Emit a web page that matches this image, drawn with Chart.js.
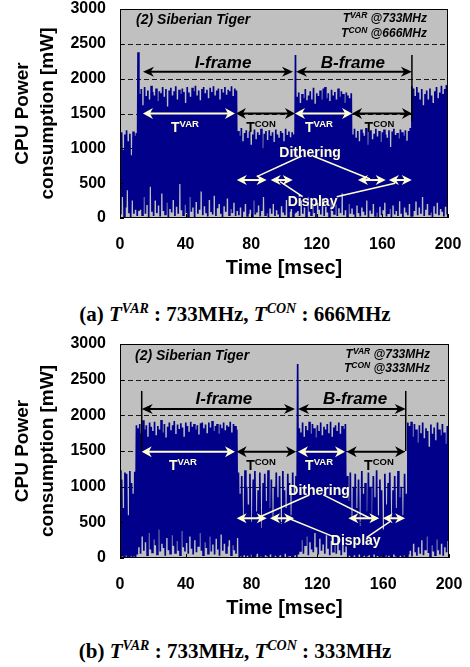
<!DOCTYPE html>
<html><head><meta charset="utf-8">
<script src="https://cdn.jsdelivr.net/npm/chart.js@4.4.0/dist/chart.umd.min.js"></script>
<style>
html,body{margin:0;padding:0;background:#fff;width:470px;height:667px;overflow:hidden;}
.wrap{position:absolute;left:0;width:470px;height:300px;}
.cap{position:absolute;left:0;width:470px;text-align:center;font:bold 21px "Liberation Serif",serif;color:#000;white-space:nowrap;line-height:24px;}
.cap i{font-style:italic}
.cap sup{font-size:14px;font-style:italic;vertical-align:0;position:relative;top:-8px}
</style></head>
<body>
<div class="wrap" style="top:0"><canvas id="c1" width="470" height="300"></canvas></div>
<div class="cap" style="top:302px">(a) <i>T</i><sup>VAR</sup> : 733MHz, <i>T</i><sup>CON</sup> : 666MHz</div>
<div class="wrap" style="top:330px"><canvas id="c2" width="470" height="300"></canvas></div>
<div class="cap" style="top:639px">(b) <i>T</i><sup>VAR</sup> : 733MHz, <i>T</i><sup>CON</sup> : 333MHz</div>
<script>
// ---- DATA (one sample per msec: local peak and following trough, mW) ----
const xTickValues = [0, 40, 80, 120, 160, 200];
const yTickValues = [0, 500, 1000, 1500, 2000, 2500, 3000];

const peaksA = [
1150,1230,980,1200,1260,1100,1210,900,1240,1180,1220,
2380,
1780,1850,1620,1880,1750,1830,1700,1900,1810,1760,
1860,1680,1820,1790,1880,1740,1850,1600,1830,1870,
1760,1820,1890,1700,1840,1780,1860,1810,1650,1880,
1800,1740,1870,1820,1900,1760,1830,1690,1850,1880,
1790,1840,1720,1870,1810,1890,1760,1830,1860,1700,
1850,1800,1880,1770,1840,1820,1890,1750,1860,1830,
1250,1180,1290,1100,1220,1260,1150,1240,1050,1200,
1270,1130,1230,1190,1280,1000,1210,1250,1120,1260,
1180,1230,1090,1270,1200,1150,1250,1220,1100,1280,
1190,1240,1160,1230,1200,
2340,
1740,1800,1650,1780,1720,1850,1690,1760,1820,1700,
1870,1640,1790,1750,1830,1700,1860,1880,1720,1790,
1680,1840,1760,1810,1700,1860,1740,1820,1780,1650,
1800,1760,1720,1790,
1200,1280,1150,1250,1100,1270,1220,1180,1290,1050,
1240,1260,1130,1210,1280,1170,1250,1090,1230,1270,
1200,1150,1260,1020,1240,1280,1190,1220,1140,1270,
1230,1180,1260,1110,1250,1290,
1890,1860,1750,1880,1800,1700,1850,1620,1780,1830,
1700,1860,1760,1650,1820,1880,1720,1800,1900,1780,
1850,1910,1870
];
const troughsA = [
50,300,20,150,400,80,10,250,60,120,30,
100,
120,40,300,60,200,10,450,90,30,250,
70,180,20,350,100,50,220,0,140,80,
260,30,160,60,500,110,40,190,70,20,
300,90,150,10,230,60,120,380,40,170,
80,20,260,100,50,320,30,140,200,60,
10,180,90,280,40,130,70,220,30,100,
40,150,0,90,200,30,60,120,10,250,
50,80,180,20,100,300,40,70,0,150,
60,200,30,110,50,0,170,80,40,260,
20,90,130,10,60,
80,
100,30,250,60,150,20,300,90,40,180,
70,10,220,120,50,280,30,160,80,20,
240,100,60,190,30,140,70,350,40,110,
20,200,60,150,
50,0,180,70,20,150,90,40,250,10,
120,60,200,30,80,0,160,40,110,220,
20,70,130,0,190,50,100,30,240,60,
10,150,80,40,200,30,
20,100,250,40,150,60,300,30,120,200,
50,80,10,180,60,220,40,130,90,20,
160,50,100
];
const peaksB = [
1230,1100,700,1200,1180,600,1220,1050,900,1210,
1860,
1820,1880,1750,1930,1800,1860,1700,1900,1840,1780,
1910,1720,1850,1800,1935,1760,1880,1690,1840,1900,
1790,1860,1920,1740,1870,1810,1890,1830,1700,1900,
1850,1770,1910,1840,1880,1800,1860,1730,1890,1900,
1820,1870,1750,1900,1830,1920,1780,1850,1880,1740,
1870,1820,1900,1790,1860,1840,1910,1760,1880,1850,
1800,
1200,900,1150,600,1230,1000,750,1180,500,1100,
1220,650,950,1200,420,1050,1180,800,1230,700,
1100,550,1000,1200,850,1150,480,1220,950,700,
1180,1050,600,1200,900,1150,
2720,
1820,1760,1900,1700,1850,1790,1910,1740,1880,1820,
1690,1860,1780,1900,1720,1840,1800,1880,1750,1910,
1700,1830,1860,1780,1900,1740,1850,1810,1880,
1150,800,1200,550,1000,1180,700,1100,450,1220,
900,1050,650,1200,1000,500,1150,850,1230,600,
1100,950,400,1180,750,1050,1200,550,950,1150,
700,1220,850,1000,600,1180,900,
1900,1850,1910,1700,1880,1800,1620,1860,1750,1900,
1680,1820,1780,1560,1870,1740,1830,1650,1900,1800,
1720,1880,1760,1600,1850,1890
];
const troughsB = [
0,20,0,40,10,0,30,0,20,10,
50,
150,60,300,100,220,40,350,120,80,260,
180,50,400,90,200,140,30,280,110,60,
320,170,70,240,100,40,380,150,90,210,
60,300,130,50,250,80,170,350,100,40,
220,140,60,300,90,190,50,270,120,30,
340,100,200,70,160,250,40,180,110,60,
280,
0,20,10,40,0,30,0,50,10,0,
20,60,0,30,10,0,40,20,0,50,
10,0,30,0,20,40,0,10,60,0,
20,30,0,10,40,0,
50,
100,250,60,180,300,40,220,120,80,350,
150,50,270,100,200,60,320,140,40,240,
90,180,60,300,110,40,210,80,160,
0,30,10,0,40,20,0,50,10,0,
30,0,20,40,0,10,60,0,30,0,
20,10,0,40,0,30,10,0,50,20,
0,10,30,0,40,0,20,
50,100,20,200,80,30,150,60,250,40,
120,300,70,20,180,90,40,260,110,50,
200,30,150,80,240,60
];

// ---- annotations (data units: t in msec, v in mW) ----
const annotA = {
  title:{t:9.8,v:2783}, freqs:{t:187.2,v1:2808,v2:2593,f1:'733MHz',f2:'666MHz'},
  frameV:2100, iFrame:[14,105.5], bFrame:[107.3,178],
  vlines:[[178,2340,1390]],
  iLab:{t:62.8,v:2160}, bLab:{t:142,v:2160},
  phaseV:1500, tvar:[[14,70.1],[106.7,141.5]], tcon:[[70.7,106.7],[141.5,178]],
  tvarLab:[39.6,121.3], tconLab:[86,158.2], labV:1235,
  dith:{t:115.9,v:880}, disp:{t:117.4,v:172},
  arrV:545, arrows:[[71.2,89.4],[91.9,105.3],[145.1,162],[164,177.9]],
  lines:[[110.8,890,83.4,593],[117.7,890,152.4,560],[97.6,521,111.4,306],[132.1,306,167.7,498]]
};
const annotB = {
  title:{t:9.1,v:2777}, freqs:{t:188.4,v1:2801,v2:2605,f1:'733MHz',f2:'333MHz'},
  frameV:2090, iFrame:[13.2,106.4], bFrame:[108.2,173.7],
  vlines:[[13.2,2342,1500],[173.7,2342,1500]],
  iLab:{t:63.2,v:2160}, bLab:{t:142.9,v:2160},
  phaseV:1490, tvar:[[13.2,69.9],[108.2,136.8]], tcon:[[70.9,107],[137.8,173.3]],
  tvarLab:[38.3,121], tconLab:[85.7,157.4], labV:1234,
  dith:{t:121,v:884}, disp:{t:143.3,v:182},
  arrV:557, arrows:[[70.9,89.2],[91.2,105.8],[138.8,157.6],[159.7,173.3]],
  lines:[[115.1,884,83.1,557],[123.6,884,152,557],[102.3,557,129.7,299],[150,290,164.1,509]]
};

const SANS = '"Liberation Sans", Arial, sans-serif';
const CREAM = '#FFFFD2';
const NAVY = '#00008B';

function buildTrace(peaks, troughs){
  const pts = [];
  for (let i = 0; i < peaks.length; i++){
    pts.push({x:i, y:peaks[i]});
    pts.push({x:i+0.5, y:troughs[i]});
  }
  return pts;
}

function head(ctx, x, y, dir, hl, hw){
  ctx.beginPath();
  ctx.moveTo(x, y);
  ctx.lineTo(x + dir*hl, y - hw/2);
  ctx.lineTo(x + dir*hl*0.7, y);
  ctx.lineTo(x + dir*hl, y + hw/2);
  ctx.closePath(); ctx.fill();
}
function dblArrow(ctx, x1, x2, y, color, lw, hl, hw){
  ctx.strokeStyle = color; ctx.fillStyle = color; ctx.lineWidth = lw;
  ctx.beginPath(); ctx.moveTo(x1 + hl*0.6, y); ctx.lineTo(x2 - hl*0.6, y); ctx.stroke();
  head(ctx, x1, y, 1, hl, hw); head(ctx, x2, y, -1, hl, hw);
}
function parts(ctx, list, x, y, align, color){
  let total = 0;
  for (const p of list){ ctx.font = p.f; p.w = ctx.measureText(p.s).width; total += p.w; }
  let cx = align === 'center' ? x - total/2 : align === 'right' ? x - total : x;
  ctx.fillStyle = color; ctx.textAlign = 'left'; ctx.textBaseline = 'alphabetic';
  for (const p of list){ ctx.font = p.f; ctx.fillText(p.s, cx, y + (p.dy||0)); cx += p.w; }
}

function makePlugin(an){
  return {
    id:'deco',
    beforeDatasetsDraw(chart){
      const {ctx, chartArea:a, scales:{y}} = chart;
      ctx.save();
      ctx.fillStyle = '#C0C0C0';
      ctx.fillRect(a.left, a.top, a.right - a.left, a.bottom - a.top);
      ctx.strokeStyle = '#1a1a1a'; ctx.lineWidth = 1; ctx.setLineDash([5,3]);
      for (const v of yTickValues){
        if (v <= 0 || v >= 3000) continue;
        const py = Math.round(y.getPixelForValue(v)) + 0.5;
        ctx.beginPath(); ctx.moveTo(a.left, py); ctx.lineTo(a.right, py); ctx.stroke();
      }
      ctx.restore();
    },
    afterDatasetsDraw(chart){
      const {ctx, chartArea:a, scales:{x, y}} = chart;
      const X = t => x.getPixelForValue(t), Y = v => y.getPixelForValue(v);
      ctx.save();
      // frame
      ctx.strokeStyle = '#000'; ctx.lineWidth = 1;
      ctx.strokeRect(Math.round(a.left)+0.5, Math.round(a.top)+0.5, Math.round(a.right-a.left)-1, Math.round(a.bottom-a.top)-1);
      // inward ticks
      ctx.beginPath();
      for (const t of xTickValues){ const px = Math.round(X(t))+0.5; ctx.moveTo(px, a.bottom); ctx.lineTo(px, a.bottom-4); }
      for (const v of yTickValues){ const py = Math.round(Y(v))+0.5; ctx.moveTo(a.left, py); ctx.lineTo(a.left+4, py); }
      ctx.stroke();
      // header texts
      parts(ctx, [{s:'(2) Siberian Tiger', f:'italic bold 14px '+SANS}], X(an.title.t), Y(an.title.v), 'left', '#000');
      const fr = an.freqs;
      parts(ctx, [{s:'T', f:'italic bold 12px '+SANS},{s:'VAR', f:'italic bold 8.5px '+SANS, dy:-4},{s:' @'+fr.f1, f:'italic bold 12px '+SANS}], X(fr.t), Y(fr.v1), 'right', '#000');
      parts(ctx, [{s:'T', f:'italic bold 12px '+SANS},{s:'CON', f:'italic bold 8.5px '+SANS, dy:-4},{s:' @'+fr.f2, f:'italic bold 12px '+SANS}], X(fr.t), Y(fr.v2), 'right', '#000');
      // frame boundary lines
      ctx.strokeStyle = '#000'; ctx.lineWidth = 1.5;
      for (const [t, v1, v2] of an.vlines){ ctx.beginPath(); ctx.moveTo(X(t), Y(v1)); ctx.lineTo(X(t), Y(v2)); ctx.stroke(); }
      // frame arrows
      dblArrow(ctx, X(an.iFrame[0]), X(an.iFrame[1]), Y(an.frameV), '#000', 2, 11, 10);
      dblArrow(ctx, X(an.bFrame[0]), X(an.bFrame[1]), Y(an.frameV), '#000', 2, 11, 10);
      parts(ctx, [{s:'I-frame', f:'italic bold 17px '+SANS}], X(an.iLab.t), Y(an.iLab.v), 'center', '#000');
      parts(ctx, [{s:'B-frame', f:'italic bold 17px '+SANS}], X(an.bLab.t), Y(an.bLab.v), 'center', '#000');
      // phase arrows
      for (const [t1, t2] of an.tvar) dblArrow(ctx, X(t1), X(t2), Y(an.phaseV), CREAM, 2, 10, 11);
      for (const [t1, t2] of an.tcon) dblArrow(ctx, X(t1), X(t2), Y(an.phaseV), '#000', 2, 10, 11);
      for (const t of an.tvarLab) parts(ctx, [{s:'T', f:'bold 14px '+SANS},{s:'VAR', f:'bold 9.5px '+SANS, dy:-5}], X(t), Y(an.labV), 'center', CREAM);
      for (const t of an.tconLab) parts(ctx, [{s:'T', f:'bold 14px '+SANS},{s:'CON', f:'bold 9.5px '+SANS, dy:-5}], X(t), Y(an.labV), 'center', '#000');
      // dithering / display
      ctx.strokeStyle = CREAM; ctx.lineWidth = 1.5;
      for (const [t1, v1, t2, v2] of an.lines){ ctx.beginPath(); ctx.moveTo(X(t1), Y(v1)); ctx.lineTo(X(t2), Y(v2)); ctx.stroke(); }
      for (const [t1, t2] of an.arrows) dblArrow(ctx, X(t1), X(t2), Y(an.arrV), CREAM, 2, 10, 10);
      parts(ctx, [{s:'Dithering', f:'bold 14px '+SANS}], X(an.dith.t), Y(an.dith.v), 'center', CREAM);
      parts(ctx, [{s:'Display', f:'bold 14px '+SANS}], X(an.disp.t), Y(an.disp.v), 'center', CREAM);
      ctx.restore();
    },
    afterDraw(chart){
      const {ctx, chartArea:a} = chart;
      const yc = (a.top + a.bottom)/2;
      ctx.save();
      ctx.fillStyle = '#000'; ctx.textAlign = 'center'; ctx.textBaseline = 'middle';
      ctx.font = 'bold 20px '+SANS;
      ctx.fillText('Time [msec]', (a.left + a.right)/2, a.bottom + 50);
      ctx.font = 'bold 19px '+SANS;
      ctx.translate(a.left - 97, yc); ctx.rotate(-Math.PI/2);
      ctx.fillText('CPU Power', 0, 0);
      ctx.restore();
      ctx.save();
      ctx.fillStyle = '#000'; ctx.textAlign = 'center'; ctx.textBaseline = 'middle';
      ctx.font = 'bold 19px '+SANS;
      ctx.translate(a.left - 72, yc); ctx.rotate(-Math.PI/2);
      ctx.fillText('consumption [mW]', 0, 0);
      ctx.restore();
    }
  };
}

function zeroPad(s){ s.paddingLeft = 0; s.paddingRight = 0; s.paddingTop = 0; s.paddingBottom = 0; }

function makeChart(id, peaks, troughs, an, padTop, padRight, xAxisH){
  return new Chart(document.getElementById(id), {
    type:'line',
    data:{ datasets:[{ data: buildTrace(peaks, troughs), borderColor: NAVY, borderWidth: 1.7, pointRadius: 0, tension: 0, fill: false }] },
    options:{
      responsive:false, animation:false, devicePixelRatio:1,
      layout:{ padding:{ top:padTop, right:padRight, left:0, bottom:0 } },
      plugins:{ legend:{display:false}, tooltip:{enabled:false} },
      scales:{
        x:{ type:'linear', min:0, max:200,
            afterBuildTicks: s => { s.ticks = xTickValues.map(v => ({value:v})); },
            afterFit: s => { s.height = xAxisH; zeroPad(s); },
            grid:{display:false, drawTicks:false}, border:{display:false},
            ticks:{ color:'#000', padding:17, maxRotation:0, callback: v => String(v), font:{family:SANS, weight:'bold', size:16} } },
        y:{ type:'linear', min:0, max:3000,
            afterBuildTicks: s => { s.ticks = yTickValues.map(v => ({value:v})); },
            afterFit: s => { s.width = 120; zeroPad(s); },
            grid:{display:false, drawTicks:false}, border:{display:false},
            ticks:{ color:'#000', padding:14, callback: v => String(v), font:{family:SANS, weight:'bold', size:16} } }
      }
    },
    plugins:[ makePlugin(an) ]
  });
}

makeChart('c1', peaksA, troughsA, annotA, 9, 22, 82);
makeChart('c2', peaksB, troughsB, annotB, 14, 21, 72);
</script>
</body></html>
